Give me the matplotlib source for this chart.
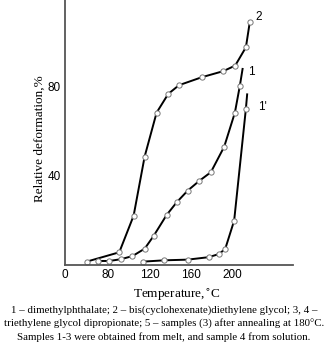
import matplotlib
matplotlib.use("Agg")
import matplotlib.pyplot as plt

# curve 2
t2 = [59.5, 90.9, 104.7, 115.3, 126.8, 138.0, 148.3, 170.4, 190.9, 202.4, 212.7, 216.5]
d2 = [1.5, 5.7, 22.1, 48.6, 68.3, 76.7, 80.6, 84.2, 86.9, 89.4, 97.6, 109.1]

# curve 1 (last point is the line end, no marker)
t1 = [70.7, 81.3, 92.5, 103.6, 115.3, 123.9, 136.4, 146.1, 156.6, 167.8, 179.0, 191.8, 202.1, 206.9, 209.5]
d1 = [1.8, 1.8, 2.6, 4.0, 7.3, 13.0, 22.4, 28.1, 33.3, 37.7, 41.6, 53.0, 68.3, 80.4, 87.9]

# curve 1'
t1p = [113.4, 134.1, 156.6, 176.8, 186.7, 192.8, 201.4, 212.7, 213.9]
d1p = [1.5, 2.1, 2.4, 3.5, 4.9, 7.2, 19.9, 70.1, 76.5]

xticks = [38.7, 80, 120, 160, 200]
xticklabels = ['0', '80', '120', '160', '200']
yticks = [40, 80]

caption = [
    "1 \u2013 dimethylphthalate; 2 \u2013 bis(cyclohexenate)diethylene glycol; 3, 4 \u2013",
    "triethylene glycol dipropionate; 5 \u2013 samples (3) after annealing at 180\u00b0C.",
    "Samples 1-3 were obtained from melt, and sample 4 from solution.",
]

fig = plt.figure(figsize=(3.28, 3.43), dpi=100)
ax = fig.add_axes([65/328, 78/343, 228/328, 265/343])

mk = dict(marker='o', markersize=3.8, markerfacecolor='white',
          markeredgecolor='#777777', markeredgewidth=0.7)
ax.plot(t2, d2, color='black', lw=1.4, **mk)
ax.plot(t1, d1, color='black', lw=1.4, markevery=list(range(len(t1) - 1)), **mk)
ax.plot(t1p, d1p, color='black', lw=1.4, markevery=list(range(len(t1p) - 1)), **mk)

ax.text(225.2, 111.2, '2', fontsize=8.5, family='Liberation Sans', va='center', ha='center')
ax.text(218.2, 86.7, '1', fontsize=8.5, family='Liberation Sans', va='center', ha='center')
ax.text(229.0, 71.0, "1'", fontsize=8.5, family='Liberation Sans', va='center', ha='center')

ax.set_xlim(38.7, 258)
ax.set_ylim(0, 118.8)
ax.set_xticks(xticks)
ax.set_xticklabels(xticklabels, family='Liberation Sans', fontsize=8.5)
ax.set_yticks(yticks)
ax.set_yticklabels([str(v) for v in yticks], family='Liberation Sans', fontsize=8.5)
ax.tick_params(length=0, pad=3)
for s in ['top', 'right']:
    ax.spines[s].set_visible(False)
for s in ['left', 'bottom']:
    ax.spines[s].set_color('#555555')
    ax.spines[s].set_linewidth(1.3)

fig.text(177/328, 1 - 295/343, 'Temperature,$^{\\circ}$C', family='Liberation Serif',
         fontsize=9.5, ha='center', va='center')
fig.text(40/328, 1 - 139/343, 'Relative deformation,%', family='Liberation Serif',
         fontsize=9.5, ha='center', va='center', rotation=90)

ys = [310, 324, 337]
for line, y in zip(caption, ys):
    fig.text(0.5, 1 - y/343, line, family='Liberation Serif', fontsize=7.8,
             ha='center', va='center')

fig.savefig('out.png', dpi=100)
